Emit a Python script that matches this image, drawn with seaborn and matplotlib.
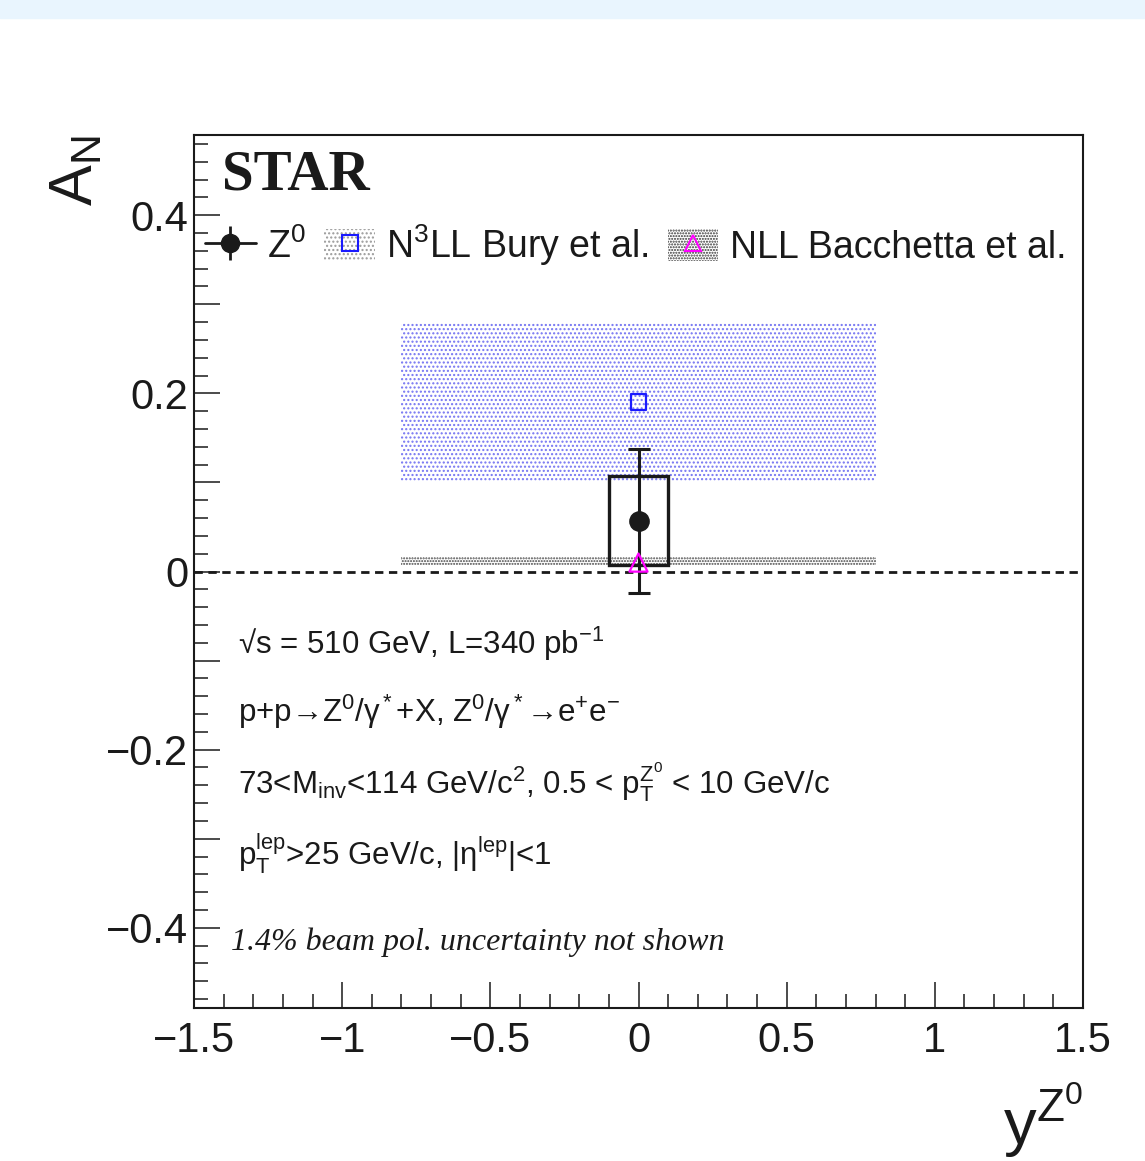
"""
STAR Z0 transverse single-spin asymmetry A_N vs rapidity, with theory bands
"""

import matplotlib
matplotlib.use("Agg")
import matplotlib.pyplot as plt
from matplotlib.patches import Rectangle, Patch
from matplotlib.lines import Line2D
from matplotlib.ticker import MultipleLocator, FuncFormatter
import seaborn as sns
import pandas as pd

# measured point
z_rap = [0.0]
z_an = [0.057]
z_stat = [0.081]
z_sys = [0.050]
z_binhalf = [0.1]

# theory curves (one rapidity bin, band over |y| < 0.8)
theory_rap = [-0.8, 0.8]
bury_an = [0.19]
bury_lo = [0.10]
bury_hi = [0.28]
bacc_an = [0.010]
bacc_lo = [0.007]
bacc_hi = [0.016]

legend_labels = ["Z$^0$", "N$^3$LL Bury et al.", "NLL Bacchetta et al."]
info_lines = [
    "\u221as = 510 GeV, L=340 pb$^{-1}$",
    "p+p\u2192Z$^0$/\u03b3$^*$+X, Z$^0$/\u03b3$^*$\u2192$\\mathrm{e^{+}e^{-}}$",
    "73<M$_\\mathrm{inv}$<114 GeV/c$^2$, 0.5 < p$_\\mathrm{T}^\\mathrm{Z^0}$ < 10 GeV/c",
    "p$_\\mathrm{T}^\\mathrm{lep}$>25 GeV/c, |\u03b7$^\\mathrm{lep}$|<1",
]
pol_note = "1.4% beam pol. uncertainty not shown"

W, H = 1145, 1161
AX_L, AX_R, AX_T, AX_B = 194, 1083, 135, 1008


def px_ax(x, y):
    # pixel position in the picture -> axes fraction
    return (x - AX_L) / (AX_R - AX_L), (AX_B - y) / (AX_B - AX_T)


def tick_fmt(step):
    def f(v, pos):
        k = v / step
        if abs(k - round(k)) > 1e-6:
            return ""
        s = "{:g}".format(round(v, 3) + 0.0)
        return s.replace("-", "\u2212")
    return FuncFormatter(f)


def main():
    sns.set_theme(style="ticks")
    plt.rcParams["font.family"] = ["Liberation Sans", "DejaVu Sans"]
    plt.rcParams["mathtext.fontset"] = "custom"
    plt.rcParams["mathtext.rm"] = "Liberation Sans"
    plt.rcParams["mathtext.it"] = "Liberation Sans:italic"
    plt.rcParams["mathtext.bf"] = "Liberation Sans:bold"
    plt.rcParams["hatch.linewidth"] = 1.0
    plt.rcParams["text.color"] = "k"

    fig = plt.figure(figsize=(W / 100, H / 100), dpi=100)
    fig.add_artist(Rectangle((0, 1 - 18 / H), 1, 18 / H, transform=fig.transFigure,
                             color="#e9f5fe", zorder=0))
    ax = fig.add_axes([AX_L / W, 1 - AX_B / H, (AX_R - AX_L) / W, (AX_B - AX_T) / H])

    # theory bands
    ax.fill_between(theory_rap, bury_lo[0], bury_hi[0], facecolor="none",
                    edgecolor="#7474f2", hatch="....", linewidth=0, zorder=1)
    ax.fill_between(theory_rap, bacc_lo[0], bacc_hi[0], facecolor="none",
                    edgecolor="#444444", hatch="......", linewidth=0, zorder=1)

    ax.axhline(0, color="k", lw=2, ls=(0, (3, 2)), zorder=3)

    # systematic box + stat error
    ax.add_patch(Rectangle((z_rap[0] - z_binhalf[0], z_an[0] - z_sys[0]),
                           2 * z_binhalf[0], 2 * z_sys[0], fill=False,
                           ec="k", lw=2.4, zorder=4))
    ax.errorbar(z_rap, z_an, yerr=z_stat, fmt="none", ecolor="k",
                elinewidth=2.2, capsize=8, capthick=2.2, zorder=5)

    df_z = pd.DataFrame({"rap": z_rap, "an": z_an})
    sns.scatterplot(data=df_z, x="rap", y="an", ax=ax, marker="o", s=190,
                    color="k", edgecolor="k", zorder=6, legend=False)
    sns.scatterplot(x=z_rap, y=bury_an, ax=ax, marker="s", s=130,
                    facecolor="none", edgecolor="#1a1aff", linewidth=1.6,
                    zorder=6, legend=False)
    sns.scatterplot(x=z_rap, y=bacc_an, ax=ax, marker="^", s=170,
                    facecolor="none", edgecolor="#ff00ff", linewidth=1.6,
                    zorder=6, legend=False)

    ax.set_xlim(-1.5, 1.5)
    ax.set_ylim(-0.49, 0.49)
    ax.set_xlabel("")
    ax.set_ylabel("")

    ax.xaxis.set_major_locator(MultipleLocator(0.5))
    ax.xaxis.set_minor_locator(MultipleLocator(0.1))
    ax.xaxis.set_major_formatter(tick_fmt(0.5))
    ax.yaxis.set_major_locator(MultipleLocator(0.1))
    ax.yaxis.set_minor_locator(MultipleLocator(0.02))
    ax.yaxis.set_major_formatter(tick_fmt(0.2))
    ax.tick_params(which="both", direction="in", top=False, right=False,
                   width=1.1, color="k", labelcolor="k")
    ax.tick_params(which="major", length=19, labelsize=30)
    ax.tick_params(axis="x", which="major", pad=9)
    ax.tick_params(axis="y", which="major", pad=4)
    ax.tick_params(which="minor", length=10)
    for sp in ax.spines.values():
        sp.set_linewidth(1.5)
        sp.set_color("k")

    # legend
    h_z = (Line2D([], [], color="k", lw=2, marker="o", ms=13),
           Line2D([], [], color="k", marker="|", ms=25, mew=2, ls="none"))
    h_bury = (Patch(facecolor="none", edgecolor="#9a9a9a", hatch="....", lw=0),
              Line2D([], [], ls="none", marker="s", ms=11, mfc="none",
                     mec="#1a1aff", mew=1.5))
    h_bacc = (Patch(facecolor="none", edgecolor="#333333", hatch="......", lw=0),
              Line2D([], [], ls="none", marker="^", ms=12, mfc="none",
                     mec="#ff00ff", mew=1.5))
    leg = ax.legend([h_z, h_bury, h_bacc], legend_labels, ncol=3, loc="center left",
                    bbox_to_anchor=px_ax(205, 245), frameon=False, fontsize=27,
                    handlelength=1.35, handleheight=0.95, handletextpad=0.3,
                    columnspacing=0.5, borderpad=0, borderaxespad=0)
    for t in leg.get_texts():
        t.set_color("k")

    # texts
    ax.text(*px_ax(222, 190), "STAR", transform=ax.transAxes, fontsize=41,
            family="Liberation Serif", weight="bold", va="baseline")
    for line, yb in zip(info_lines, [654, 722, 793, 865]):
        ax.text(*px_ax(238, yb), line, transform=ax.transAxes, fontsize=22.5,
                va="baseline")
    ax.text(*px_ax(231, 950), pol_note, transform=ax.transAxes, fontsize=23,
            family="Liberation Serif", style="italic", va="baseline", color="#1a1a1a")

    ax.text(*px_ax(92, AX_T), r"$\mathrm{A_N}$", transform=ax.transAxes,
            fontsize=44, rotation=90, rotation_mode="anchor", ha="right",
            va="baseline")
    ax.text(*px_ax(AX_R, 1145), r"$\mathrm{y^{Z^0}}$", transform=ax.transAxes,
            fontsize=47, ha="right", va="baseline")

    fig.savefig("out.png", dpi=100)


main()
